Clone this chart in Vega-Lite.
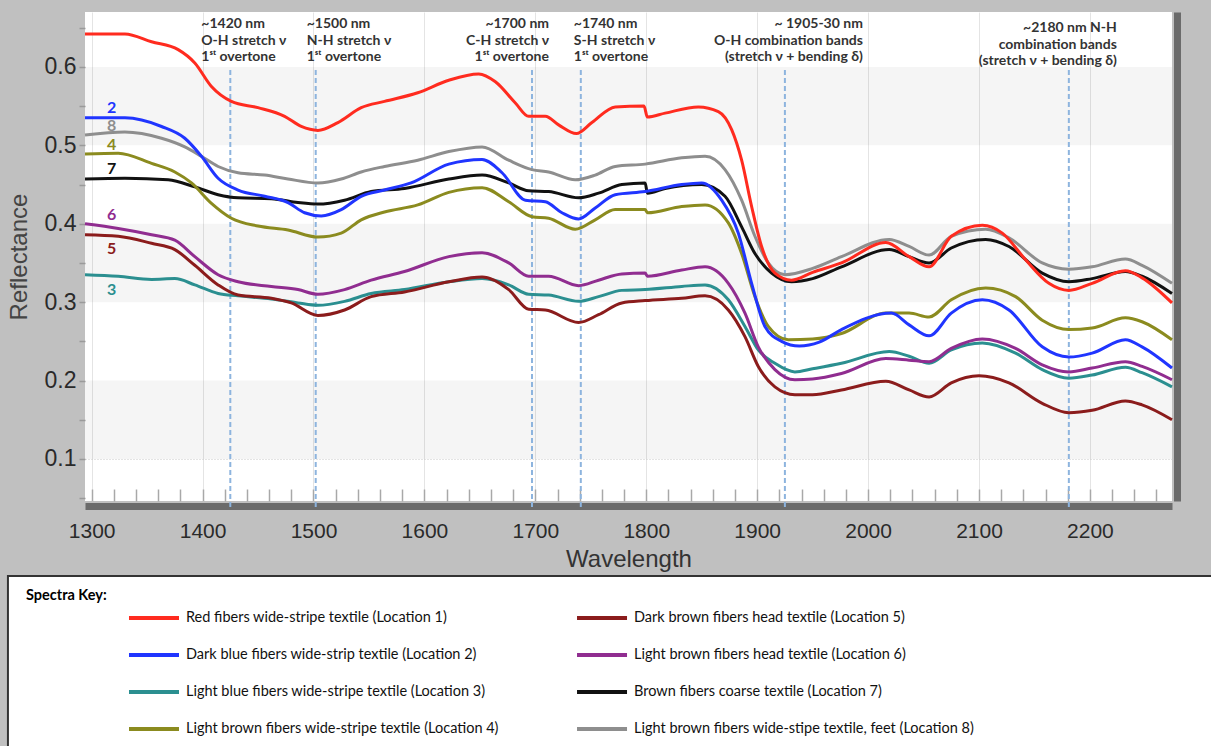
{
  "$schema": "https://vega.github.io/schema/vega-lite/v6.json",
  "background": "#c0c0c0",
  "padding": {"left": 6, "top": 12, "right": 0, "bottom": 0},
  "config": {"view": {"stroke": null}, "font": "Liberation Sans"},
  "spacing": 4,
  "datasets": {
    "bands": [{"lo": 0.5, "hi": 0.6}, {"lo": 0.3, "hi": 0.4}, {"lo": 0.1, "hi": 0.2}],
    "marks": [
      {"wl": 1425, "txt": ["~1420 nm", "O-H stretch ν", "1ˢᵗ overtone"]},
      {"wl": 1502, "txt": ["~1500 nm", "N-H stretch ν", "1ˢᵗ overtone"]},
      {"wl": 1697, "txt": ["~1700 nm", "C-H stretch ν", "1ˢᵗ overtone"]},
      {"wl": 1741, "txt": ["~1740 nm", "S-H stretch ν", "1ˢᵗ overtone"]},
      {"wl": 1925, "txt": ["~ 1905-30 nm", "O-H combination bands", "(stretch ν + bending δ)"]},
      {"wl": 2181, "txt": ["~2180 nm N-H", "combination bands", "(stretch ν + bending δ)"]}
    ],
    "labels": [
      {"loc": 2, "w": 1318, "r": 0.548},
      {"loc": 8, "w": 1318, "r": 0.524},
      {"loc": 4, "w": 1318, "r": 0.5005},
      {"loc": 7, "w": 1318, "r": 0.4695},
      {"loc": 6, "w": 1318, "r": 0.411},
      {"loc": 5, "w": 1318, "r": 0.3675},
      {"loc": 3, "w": 1318, "r": 0.315}
    ],
    "key": [
      {"loc": 1, "name": "Red fibers wide-stripe textile  (Location 1)"},
      {"loc": 2, "name": "Dark blue fibers wide-strip textile (Location 2)"},
      {"loc": 3, "name": "Light blue fibers wide-stripe textile (Location 3)"},
      {"loc": 4, "name": "Light brown fibers wide-stripe textile (Location 4)"},
      {"loc": 5, "name": "Dark brown fibers head textile  (Location 5)"},
      {"loc": 6, "name": "Light brown fibers head textile (Location 6)"},
      {"loc": 7, "name": "Brown fibers coarse textile (Location 7)"},
      {"loc": 8, "name": "Light brown fibers wide-stipe textile, feet (Location 8)"}
    ],
    "spectra": [
      {"s":8,"w":1294,"r":0.513},{"s":8,"w":1330,"r":0.517},{"s":8,"w":1363,"r":0.509},{"s":8,"w":1384,"r":0.498},{"s":8,"w":1399,"r":0.486},{"s":8,"w":1414,"r":0.473},{"s":8,"w":1432,"r":0.465},{"s":8,"w":1456,"r":0.462},{"s":8,"w":1477,"r":0.457},{"s":8,"w":1504,"r":0.452},{"s":8,"w":1525,"r":0.457},{"s":8,"w":1543,"r":0.466},{"s":8,"w":1564,"r":0.473},{"s":8,"w":1594,"r":0.481},{"s":8,"w":1622,"r":0.492},{"s":8,"w":1652,"r":0.498},{"s":8,"w":1676,"r":0.481},{"s":8,"w":1697,"r":0.469},{"s":8,"w":1712,"r":0.466},{"s":8,"w":1736,"r":0.456},{"s":8,"w":1754,"r":0.462},{"s":8,"w":1772,"r":0.473},{"s":8,"w":1799,"r":0.476},{"s":8,"w":1832,"r":0.484},{"s":8,"w":1853,"r":0.486},{"s":8,"w":1871,"r":0.469},{"s":8,"w":1886,"r":0.430},{"s":8,"w":1898,"r":0.384},{"s":8,"w":1910,"r":0.350},{"s":8,"w":1925,"r":0.335},{"s":8,"w":1950,"r":0.343},{"s":8,"w":1976,"r":0.358},{"s":8,"w":2019,"r":0.380},{"s":8,"w":2037,"r":0.371},{"s":8,"w":2055,"r":0.360},{"s":8,"w":2075,"r":0.384},{"s":8,"w":2106,"r":0.393},{"s":8,"w":2127,"r":0.382},{"s":8,"w":2157,"r":0.350},{"s":8,"w":2181,"r":0.342},{"s":8,"w":2202,"r":0.345},{"s":8,"w":2232,"r":0.355},{"s":8,"w":2247,"r":0.347},{"s":8,"w":2274,"r":0.324},
      {"s":7,"w":1294,"r":0.457},{"s":7,"w":1330,"r":0.458},{"s":7,"w":1369,"r":0.456},{"s":7,"w":1393,"r":0.447},{"s":7,"w":1414,"r":0.437},{"s":7,"w":1432,"r":0.433},{"s":7,"w":1462,"r":0.432},{"s":7,"w":1486,"r":0.427},{"s":7,"w":1504,"r":0.425},{"s":7,"w":1528,"r":0.430},{"s":7,"w":1552,"r":0.441},{"s":7,"w":1582,"r":0.445},{"s":7,"w":1622,"r":0.457},{"s":7,"w":1652,"r":0.462},{"s":7,"w":1676,"r":0.452},{"s":7,"w":1694,"r":0.442},{"s":7,"w":1712,"r":0.441},{"s":7,"w":1739,"r":0.433},{"s":7,"w":1757,"r":0.439},{"s":7,"w":1778,"r":0.450},{"s":7,"w":1799,"r":0.452},{"s":7,"w":1801,"r":0.439},{"s":7,"w":1817,"r":0.445},{"s":7,"w":1850,"r":0.450},{"s":7,"w":1871,"r":0.435},{"s":7,"w":1886,"r":0.396},{"s":7,"w":1898,"r":0.362},{"s":7,"w":1913,"r":0.337},{"s":7,"w":1931,"r":0.326},{"s":7,"w":1950,"r":0.330},{"s":7,"w":1976,"r":0.345},{"s":7,"w":2019,"r":0.367},{"s":7,"w":2037,"r":0.358},{"s":7,"w":2055,"r":0.350},{"s":7,"w":2075,"r":0.369},{"s":7,"w":2106,"r":0.380},{"s":7,"w":2127,"r":0.371},{"s":7,"w":2157,"r":0.337},{"s":7,"w":2181,"r":0.326},{"s":7,"w":2202,"r":0.330},{"s":7,"w":2232,"r":0.339},{"s":7,"w":2247,"r":0.333},{"s":7,"w":2274,"r":0.311},
      {"s":4,"w":1294,"r":0.489},{"s":4,"w":1324,"r":0.490},{"s":4,"w":1354,"r":0.477},{"s":4,"w":1375,"r":0.466},{"s":4,"w":1390,"r":0.452},{"s":4,"w":1408,"r":0.426},{"s":4,"w":1426,"r":0.407},{"s":4,"w":1450,"r":0.397},{"s":4,"w":1477,"r":0.392},{"s":4,"w":1504,"r":0.383},{"s":4,"w":1525,"r":0.388},{"s":4,"w":1543,"r":0.405},{"s":4,"w":1564,"r":0.415},{"s":4,"w":1594,"r":0.424},{"s":4,"w":1622,"r":0.440},{"s":4,"w":1652,"r":0.446},{"s":4,"w":1676,"r":0.428},{"s":4,"w":1697,"r":0.409},{"s":4,"w":1712,"r":0.407},{"s":4,"w":1736,"r":0.393},{"s":4,"w":1754,"r":0.405},{"s":4,"w":1772,"r":0.418},{"s":4,"w":1799,"r":0.418},{"s":4,"w":1801,"r":0.414},{"s":4,"w":1832,"r":0.422},{"s":4,"w":1853,"r":0.424},{"s":4,"w":1874,"r":0.401},{"s":4,"w":1886,"r":0.362},{"s":4,"w":1898,"r":0.307},{"s":4,"w":1910,"r":0.269},{"s":4,"w":1928,"r":0.252},{"s":4,"w":1950,"r":0.253},{"s":4,"w":1976,"r":0.260},{"s":4,"w":2016,"r":0.286},{"s":4,"w":2037,"r":0.286},{"s":4,"w":2055,"r":0.281},{"s":4,"w":2075,"r":0.303},{"s":4,"w":2106,"r":0.318},{"s":4,"w":2133,"r":0.307},{"s":4,"w":2157,"r":0.277},{"s":4,"w":2181,"r":0.265},{"s":4,"w":2202,"r":0.267},{"s":4,"w":2232,"r":0.280},{"s":4,"w":2247,"r":0.275},{"s":4,"w":2274,"r":0.252},
      {"s":2,"w":1294,"r":0.535},{"s":2,"w":1330,"r":0.535},{"s":2,"w":1363,"r":0.524},{"s":2,"w":1384,"r":0.509},{"s":2,"w":1399,"r":0.486},{"s":2,"w":1414,"r":0.458},{"s":2,"w":1432,"r":0.443},{"s":2,"w":1456,"r":0.435},{"s":2,"w":1477,"r":0.427},{"s":2,"w":1492,"r":0.414},{"s":2,"w":1507,"r":0.410},{"s":2,"w":1525,"r":0.418},{"s":2,"w":1543,"r":0.435},{"s":2,"w":1564,"r":0.443},{"s":2,"w":1588,"r":0.452},{"s":2,"w":1622,"r":0.476},{"s":2,"w":1652,"r":0.482},{"s":2,"w":1670,"r":0.465},{"s":2,"w":1691,"r":0.430},{"s":2,"w":1709,"r":0.428},{"s":2,"w":1724,"r":0.414},{"s":2,"w":1739,"r":0.406},{"s":2,"w":1754,"r":0.420},{"s":2,"w":1772,"r":0.437},{"s":2,"w":1799,"r":0.441},{"s":2,"w":1832,"r":0.450},{"s":2,"w":1850,"r":0.452},{"s":2,"w":1868,"r":0.430},{"s":2,"w":1883,"r":0.388},{"s":2,"w":1895,"r":0.324},{"s":2,"w":1907,"r":0.269},{"s":2,"w":1922,"r":0.250},{"s":2,"w":1938,"r":0.244},{"s":2,"w":1956,"r":0.249},{"s":2,"w":1976,"r":0.265},{"s":2,"w":2021,"r":0.286},{"s":2,"w":2037,"r":0.271},{"s":2,"w":2055,"r":0.257},{"s":2,"w":2075,"r":0.286},{"s":2,"w":2103,"r":0.303},{"s":2,"w":2127,"r":0.290},{"s":2,"w":2157,"r":0.243},{"s":2,"w":2181,"r":0.230},{"s":2,"w":2202,"r":0.235},{"s":2,"w":2232,"r":0.252},{"s":2,"w":2247,"r":0.243},{"s":2,"w":2274,"r":0.216},
      {"s":3,"w":1294,"r":0.335},{"s":3,"w":1324,"r":0.333},{"s":3,"w":1354,"r":0.329},{"s":3,"w":1375,"r":0.330},{"s":3,"w":1393,"r":0.322},{"s":3,"w":1414,"r":0.311},{"s":3,"w":1432,"r":0.308},{"s":3,"w":1462,"r":0.304},{"s":3,"w":1486,"r":0.299},{"s":3,"w":1504,"r":0.296},{"s":3,"w":1528,"r":0.301},{"s":3,"w":1552,"r":0.311},{"s":3,"w":1582,"r":0.316},{"s":3,"w":1622,"r":0.326},{"s":3,"w":1652,"r":0.330},{"s":3,"w":1676,"r":0.322},{"s":3,"w":1694,"r":0.310},{"s":3,"w":1712,"r":0.309},{"s":3,"w":1739,"r":0.301},{"s":3,"w":1757,"r":0.307},{"s":3,"w":1778,"r":0.315},{"s":3,"w":1799,"r":0.316},{"s":3,"w":1832,"r":0.320},{"s":3,"w":1853,"r":0.322},{"s":3,"w":1874,"r":0.303},{"s":3,"w":1889,"r":0.269},{"s":3,"w":1901,"r":0.239},{"s":3,"w":1916,"r":0.222},{"s":3,"w":1934,"r":0.211},{"s":3,"w":1950,"r":0.215},{"s":3,"w":1976,"r":0.222},{"s":3,"w":2019,"r":0.237},{"s":3,"w":2037,"r":0.231},{"s":3,"w":2055,"r":0.222},{"s":3,"w":2075,"r":0.239},{"s":3,"w":2103,"r":0.248},{"s":3,"w":2133,"r":0.235},{"s":3,"w":2157,"r":0.214},{"s":3,"w":2181,"r":0.203},{"s":3,"w":2202,"r":0.207},{"s":3,"w":2232,"r":0.217},{"s":3,"w":2247,"r":0.210},{"s":3,"w":2274,"r":0.192},
      {"s":5,"w":1294,"r":0.386},{"s":5,"w":1324,"r":0.384},{"s":5,"w":1354,"r":0.375},{"s":5,"w":1375,"r":0.367},{"s":5,"w":1393,"r":0.347},{"s":5,"w":1414,"r":0.322},{"s":5,"w":1432,"r":0.309},{"s":5,"w":1462,"r":0.305},{"s":5,"w":1480,"r":0.299},{"s":5,"w":1504,"r":0.283},{"s":5,"w":1528,"r":0.290},{"s":5,"w":1552,"r":0.307},{"s":5,"w":1582,"r":0.313},{"s":5,"w":1622,"r":0.326},{"s":5,"w":1652,"r":0.332},{"s":5,"w":1676,"r":0.316},{"s":5,"w":1694,"r":0.291},{"s":5,"w":1709,"r":0.290},{"s":5,"w":1739,"r":0.274},{"s":5,"w":1757,"r":0.284},{"s":5,"w":1778,"r":0.299},{"s":5,"w":1799,"r":0.302},{"s":5,"w":1832,"r":0.305},{"s":5,"w":1853,"r":0.308},{"s":5,"w":1874,"r":0.290},{"s":5,"w":1889,"r":0.256},{"s":5,"w":1901,"r":0.218},{"s":5,"w":1916,"r":0.192},{"s":5,"w":1934,"r":0.182},{"s":5,"w":1950,"r":0.182},{"s":5,"w":1976,"r":0.188},{"s":5,"w":2016,"r":0.199},{"s":5,"w":2037,"r":0.188},{"s":5,"w":2055,"r":0.179},{"s":5,"w":2075,"r":0.197},{"s":5,"w":2100,"r":0.206},{"s":5,"w":2127,"r":0.197},{"s":5,"w":2157,"r":0.171},{"s":5,"w":2181,"r":0.159},{"s":5,"w":2202,"r":0.162},{"s":5,"w":2232,"r":0.174},{"s":5,"w":2247,"r":0.169},{"s":5,"w":2274,"r":0.150},
      {"s":6,"w":1294,"r":0.400},{"s":6,"w":1324,"r":0.394},{"s":6,"w":1354,"r":0.386},{"s":6,"w":1375,"r":0.379},{"s":6,"w":1393,"r":0.358},{"s":6,"w":1414,"r":0.335},{"s":6,"w":1432,"r":0.326},{"s":6,"w":1462,"r":0.320},{"s":6,"w":1486,"r":0.316},{"s":6,"w":1504,"r":0.310},{"s":6,"w":1528,"r":0.316},{"s":6,"w":1552,"r":0.328},{"s":6,"w":1582,"r":0.339},{"s":6,"w":1622,"r":0.358},{"s":6,"w":1652,"r":0.363},{"s":6,"w":1676,"r":0.350},{"s":6,"w":1694,"r":0.333},{"s":6,"w":1712,"r":0.333},{"s":6,"w":1739,"r":0.321},{"s":6,"w":1757,"r":0.328},{"s":6,"w":1778,"r":0.336},{"s":6,"w":1799,"r":0.337},{"s":6,"w":1801,"r":0.333},{"s":6,"w":1832,"r":0.341},{"s":6,"w":1853,"r":0.345},{"s":6,"w":1874,"r":0.324},{"s":6,"w":1889,"r":0.286},{"s":6,"w":1901,"r":0.243},{"s":6,"w":1916,"r":0.214},{"s":6,"w":1934,"r":0.201},{"s":6,"w":1950,"r":0.202},{"s":6,"w":1976,"r":0.209},{"s":6,"w":2016,"r":0.228},{"s":6,"w":2037,"r":0.226},{"s":6,"w":2055,"r":0.224},{"s":6,"w":2075,"r":0.241},{"s":6,"w":2103,"r":0.253},{"s":6,"w":2133,"r":0.241},{"s":6,"w":2157,"r":0.220},{"s":6,"w":2181,"r":0.211},{"s":6,"w":2202,"r":0.216},{"s":6,"w":2232,"r":0.224},{"s":6,"w":2247,"r":0.218},{"s":6,"w":2274,"r":0.201},
      {"s":1,"w":1294,"r":0.642},{"s":1,"w":1330,"r":0.642},{"s":1,"w":1354,"r":0.632},{"s":1,"w":1378,"r":0.622},{"s":1,"w":1393,"r":0.605},{"s":1,"w":1408,"r":0.575},{"s":1,"w":1426,"r":0.556},{"s":1,"w":1450,"r":0.548},{"s":1,"w":1474,"r":0.537},{"s":1,"w":1489,"r":0.524},{"s":1,"w":1504,"r":0.519},{"s":1,"w":1522,"r":0.529},{"s":1,"w":1543,"r":0.548},{"s":1,"w":1564,"r":0.556},{"s":1,"w":1594,"r":0.567},{"s":1,"w":1622,"r":0.583},{"s":1,"w":1649,"r":0.591},{"s":1,"w":1664,"r":0.581},{"s":1,"w":1682,"r":0.554},{"s":1,"w":1694,"r":0.537},{"s":1,"w":1709,"r":0.537},{"s":1,"w":1721,"r":0.526},{"s":1,"w":1737,"r":0.515},{"s":1,"w":1751,"r":0.529},{"s":1,"w":1772,"r":0.549},{"s":1,"w":1798,"r":0.550},{"s":1,"w":1801,"r":0.536},{"s":1,"w":1817,"r":0.541},{"s":1,"w":1847,"r":0.549},{"s":1,"w":1865,"r":0.543},{"s":1,"w":1877,"r":0.520},{"s":1,"w":1886,"r":0.481},{"s":1,"w":1895,"r":0.422},{"s":1,"w":1904,"r":0.371},{"s":1,"w":1916,"r":0.337},{"s":1,"w":1931,"r":0.328},{"s":1,"w":1950,"r":0.338},{"s":1,"w":1976,"r":0.350},{"s":1,"w":2016,"r":0.376},{"s":1,"w":2037,"r":0.358},{"s":1,"w":2055,"r":0.345},{"s":1,"w":2075,"r":0.384},{"s":1,"w":2103,"r":0.398},{"s":1,"w":2121,"r":0.388},{"s":1,"w":2142,"r":0.354},{"s":1,"w":2163,"r":0.324},{"s":1,"w":2181,"r":0.315},{"s":1,"w":2202,"r":0.324},{"s":1,"w":2232,"r":0.340},{"s":1,"w":2247,"r":0.331},{"s":1,"w":2274,"r":0.299}
    ]
  },
  "vconcat": [
    {
      "width": 1087,
      "height": 489,
      "view": {"fill": "#ffffff", "stroke": null},
      "resolve": {"axis": {"x": "independent", "y": "independent"}},
      "layer": [
        {
          "data": {"name": "bands"},
          "mark": {"type": "rect", "color": "#000000", "opacity": 0.04},
          "encoding": {
            "y": {"field": "lo", "type": "quantitative", "axis": {"orient": "right", "labels": false, "ticks": false, "title": null, "grid": false, "domainColor": "#6b6b6b", "domainWidth": 7, "offset": 5}},
            "y2": {"field": "hi"}
          }
        },
        {
          "data": {"name": "marks"},
          "mark": {"type": "rule", "color": "#8db4de", "strokeDash": [5, 3], "strokeWidth": 2},
          "encoding": {
            "x": {
              "field": "wl", "type": "quantitative",
              "axis": {
                "orient": "top", "offset": -489,
                "values": [1300,1320,1340,1360,1380,1400,1420,1440,1460,1480,1500,1520,1540,1560,1580,1600,1620,1640,1660,1680,1700,1720,1740,1760,1780,1800,1820,1840,1860,1880,1900,1920,1940,1960,1980,2000,2020,2040,2060,2080,2100,2120,2140,2160,2180,2200,2220,2240,2260],
                "labels": false, "domain": false, "grid": false, "title": null,
                "ticks": true, "tickSize": 12, "tickColor": "#a8a8a8", "tickWidth": 1.5
              }
            },
            "y": {"datum": 0.596, "type": "quantitative", "axis": null},
            "y2": {"datum": 0.036}
          }
        },
        {
          "data": {"name": "spectra"},
          "mark": {"type": "line", "interpolate": "monotone", "strokeWidth": 3},
          "encoding": {
            "x": {
              "field": "w", "type": "quantitative",
              "scale": {"domain": [1294, 2274], "nice": false, "zero": false},
              "axis": {
                "orient": "bottom",
                "values": [1300,1400,1500,1600,1700,1800,1900,2000,2100,2200],
                "format": "d",
                "labelOverlap": false, "labelFlush": false,
                "ticks": false, "tickSize": 0,
                "labelPadding": 14, "labelFontSize": 21, "labelColor": "#2a2a2a",
                "title": "Wavelength", "titleFontSize": 24, "titleFontWeight": "normal", "titleColor": "#333333", "titlePadding": 6,
                "domainColor": "#6b6b6b", "domainWidth": 7, "offset": 5,
                "grid": true, "gridColor": "#e4e4e4"
              }
            },
            "y": {
              "field": "r", "type": "quantitative",
              "scale": {"domain": [0.0464, 0.67], "nice": false, "zero": false},
              "axis": {
                "orient": "left",
                "values": [0.05,0.1,0.15,0.2,0.25,0.3,0.35,0.4,0.45,0.5,0.55,0.6,0.65],
                "labelExpr": "round(datum.value*100) % 10 === 0 ? format(datum.value, '.1f') : ''",
                "labelOverlap": false,
                "tickSize": 6, "tickColor": "#9a9a9a", "tickWidth": 1.5, "domain": false,
                "labelFontSize": 23, "labelColor": "#2a2a2a", "labelPadding": 3,
                "title": "Reflectance", "titleFontSize": 24, "titleFontWeight": "normal", "titleColor": "#444444", "titlePadding": 13,
                "grid": true, "gridColor": "#c8c8c8", "gridDash": [1, 2],
                "gridOpacity": {"condition": {"test": "abs(datum.value - 0.1) < 0.001", "value": 1}, "value": 0}
              }
            },
            "color": {
              "field": "s", "type": "nominal",
              "scale": {"domain": [1,2,3,4,5,6,7,8], "range": ["#ff2b1f","#2035ff","#2b8f90","#8b8b1f","#8b1c1c","#902d90","#111111","#8e8e8e"]},
              "legend": null
            }
          }
        },
        {
          "data": {"name": "labels"},
          "mark": {"type": "text", "font": "Lato", "fontSize": 16, "fontWeight": "bold", "baseline": "middle"},
          "encoding": {
            "x": {"field": "w", "type": "quantitative", "axis": null},
            "y": {"field": "r", "type": "quantitative", "axis": null},
            "text": {"field": "loc", "type": "nominal"},
            "color": {"field": "loc", "type": "nominal", "legend": null}
          }
        },
        {
          "data": {"name": "marks"},
          "transform": [{"filter": "datum.wl === 1425"}],
          "mark": {"type": "text", "align": "left", "baseline": "top", "dx": -29, "dy": 5, "font": "Lato", "fontSize": 14, "fontWeight": "bold", "color": "#333333", "lineHeight": 16.5},
          "encoding": {"x": {"field": "wl", "type": "quantitative", "axis": null}, "y": {"datum": 0.67, "type": "quantitative", "axis": null}, "text": {"field": "txt"}}
        },
        {
          "data": {"name": "marks"},
          "transform": [{"filter": "datum.wl === 1502"}],
          "mark": {"type": "text", "align": "left", "baseline": "top", "dx": -9, "dy": 5, "font": "Lato", "fontSize": 14, "fontWeight": "bold", "color": "#333333", "lineHeight": 16.5},
          "encoding": {"x": {"field": "wl", "type": "quantitative", "axis": null}, "y": {"datum": 0.67, "type": "quantitative", "axis": null}, "text": {"field": "txt"}}
        },
        {
          "data": {"name": "marks"},
          "transform": [{"filter": "datum.wl === 1697"}],
          "mark": {"type": "text", "align": "right", "baseline": "top", "dx": 17, "dy": 5, "font": "Lato", "fontSize": 14, "fontWeight": "bold", "color": "#333333", "lineHeight": 16.5},
          "encoding": {"x": {"field": "wl", "type": "quantitative", "axis": null}, "y": {"datum": 0.67, "type": "quantitative", "axis": null}, "text": {"field": "txt"}}
        },
        {
          "data": {"name": "marks"},
          "transform": [{"filter": "datum.wl === 1741"}],
          "mark": {"type": "text", "align": "left", "baseline": "top", "dx": -7, "dy": 5, "font": "Lato", "fontSize": 14, "fontWeight": "bold", "color": "#333333", "lineHeight": 16.5},
          "encoding": {"x": {"field": "wl", "type": "quantitative", "axis": null}, "y": {"datum": 0.67, "type": "quantitative", "axis": null}, "text": {"field": "txt"}}
        },
        {
          "data": {"name": "marks"},
          "transform": [{"filter": "datum.wl === 1925"}],
          "mark": {"type": "text", "align": "right", "baseline": "top", "dx": 78, "dy": 5, "font": "Lato", "fontSize": 14, "fontWeight": "bold", "color": "#333333", "lineHeight": 16.5},
          "encoding": {"x": {"field": "wl", "type": "quantitative", "axis": null}, "y": {"datum": 0.67, "type": "quantitative", "axis": null}, "text": {"field": "txt"}}
        },
        {
          "data": {"name": "marks"},
          "transform": [{"filter": "datum.wl === 2181"}],
          "mark": {"type": "text", "align": "right", "baseline": "top", "dx": 48, "dy": 9, "font": "Lato", "fontSize": 14, "fontWeight": "bold", "color": "#333333", "lineHeight": 16.5},
          "encoding": {"x": {"field": "wl", "type": "quantitative", "axis": null}, "y": {"datum": 0.67, "type": "quantitative", "axis": null}, "text": {"field": "txt"}}
        }
      ]
    },
    {
      "width": 1125,
      "height": 171,
      "view": {"fill": null, "stroke": null},
      "title": {"text": "Spectra Key:", "anchor": "start", "frame": "group", "offset": -28, "dx": -59, "font": "Lato", "fontSize": 14.5, "fontWeight": "bold", "color": "#000000"},
      "layer": [
        {
          "data": {"values": [{}]},
          "mark": {"type": "rect", "fill": "#ffffff", "stroke": "#333333", "strokeWidth": 2},
          "encoding": {
            "x": {"datum": 0.674, "type": "quantitative", "scale": {"domain": [0.846, 3.357], "nice": false, "zero": false}, "axis": null},
            "x2": {"datum": 3.45},
            "y": {"datum": -0.135, "type": "quantitative", "scale": {"domain": [-0.135, 4.486], "nice": false, "zero": false, "reverse": true}, "axis": null},
            "y2": {"datum": 4.8}
          }
        },
        {
          "data": {"name": "key"},
          "transform": [
            {"calculate": "datum.loc <= 4 ? 1 : 2", "as": "col"},
            {"calculate": "(datum.loc - 1) % 4 + 1", "as": "row"}
          ],
          "mark": {"type": "point", "shape": "M-2,0H2", "size": 625, "strokeWidth": 4, "filled": false, "opacity": 1},
          "encoding": {
            "x": {"field": "col", "type": "quantitative", "axis": null},
            "y": {"field": "row", "type": "quantitative", "axis": null},
            "color": {"field": "loc", "type": "nominal", "legend": null}
          }
        },
        {
          "data": {"name": "key"},
          "transform": [
            {"calculate": "datum.loc <= 4 ? 1 : 2", "as": "col"},
            {"calculate": "(datum.loc - 1) % 4 + 1", "as": "row"}
          ],
          "mark": {"type": "text", "align": "left", "baseline": "middle", "dx": 32, "font": "Lato", "fontSize": 14.5, "color": "#111111"},
          "encoding": {
            "x": {"field": "col", "type": "quantitative", "axis": null},
            "y": {"field": "row", "type": "quantitative", "axis": null},
            "text": {"field": "name", "type": "nominal"}
          }
        }
      ]
    }
  ]
}
